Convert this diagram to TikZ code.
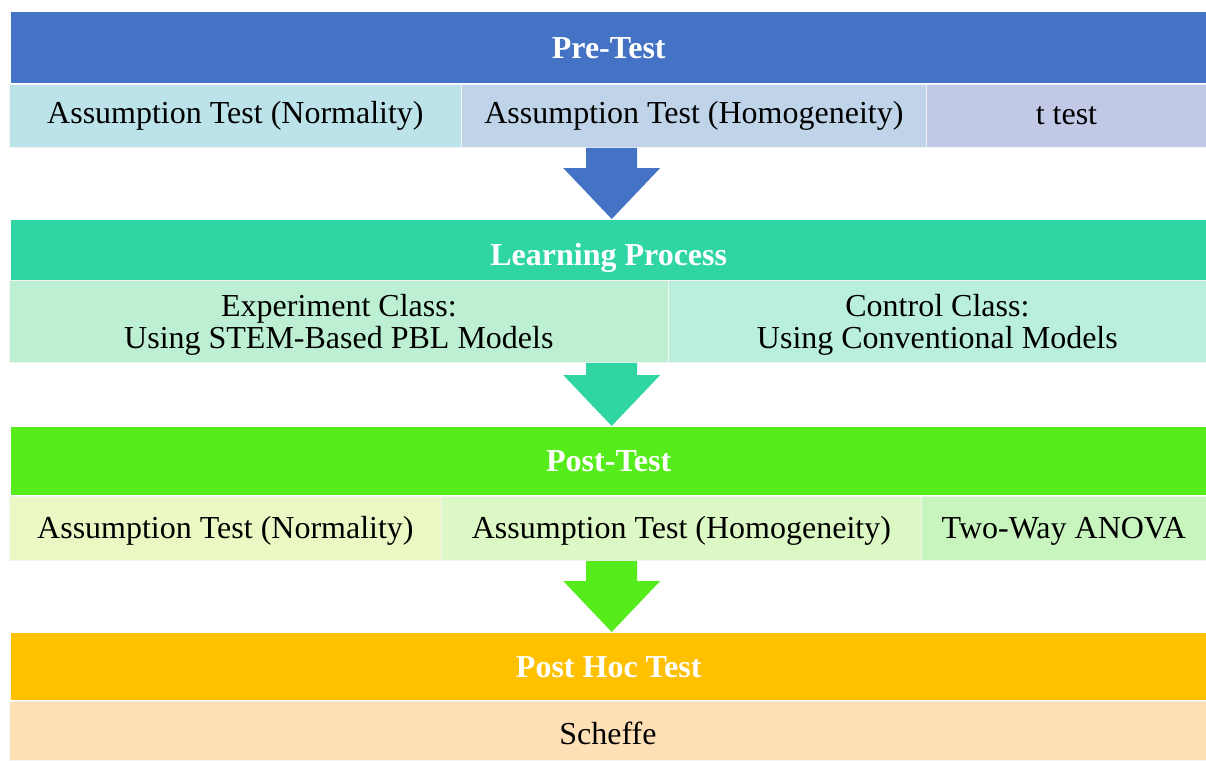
\documentclass[tikz,border=0pt]{standalone}
\usepackage{fontspec}
\setmainfont{Liberation Serif}
\definecolor{preblue}{HTML}{4472C4}
\definecolor{learngreen}{HTML}{2FD6A3}
\definecolor{postgreen}{HTML}{56EB1B}
\definecolor{hocorange}{HTML}{FFC000}
\definecolor{hoccell}{HTML}{FFE0B6}
\begin{document}
\begin{tikzpicture}[x=1pt,y=-1pt]
  \tikzset{
    head/.style={anchor=north west,inner sep=0pt,minimum width=1195pt,text=white,font=\fontsize{32}{33}\selectfont\bfseries},
    cell/.style={anchor=north west,inner sep=0pt,draw=white!70!gray!30,line width=0.8pt},
    celltext/.style={inner sep=0pt,align=center,font=\fontsize{32}{32}\selectfont}
  }
  \newcommand{\flowarrow}[3]{%
    \fill[#3] ([xshift=-22.5pt]#1) -- ([xshift=-22.5pt,yshift=52pt]#2) -- ([xshift=-45.5pt,yshift=52pt]#2)
      -- ([xshift=3pt,yshift=1pt]#2) -- ([xshift=51.5pt,yshift=52pt]#2) -- ([xshift=28.5pt,yshift=52pt]#2)
      -- ([xshift=28.5pt]#1) -- cycle;}
  \useasboundingbox (0,0) rectangle (1206,760);
  % Stage bars
  \node[head,fill=preblue,minimum height=71pt] (pre) at (11,12) {Pre-Test};
  \node[head,fill=learngreen,minimum height=60pt,text height=30pt,text depth=0pt] (learn) at (11,220) {Learning Process};
  \node[head,fill=postgreen,minimum height=68pt] (post) at (11,427) {Post-Test};
  \node[head,fill=hocorange,minimum height=67pt] (hoc) at (11,633) {Post Hoc Test};
  % Pre-test cells
  \foreach \x/\w/\c/\n/\t in {9/452/BDE3EA/preA/{Assumption Test (Normality)},
      461/465/BFD4E8/preB/{Assumption Test (Homogeneity)},
      926/280/C1C9E6/preC/{t test}}
    {\definecolor{cellfill}{HTML}{\c}
     \node[cell,fill=cellfill,minimum width=\w pt,minimum height=63pt] (\n) at (\x,84) {};
     \node[celltext] at (\n.center) {\t};}
  % Learning cells
  \foreach \x/\w/\c/\n/\t in {9/659/BDF0D2/learnA/{Experiment Class:\\Using STEM-Based PBL Models},
      668/538/B9EFDB/learnB/{Control Class:\\Using Conventional Models}}
    {\definecolor{cellfill}{HTML}{\c}
     \node[cell,fill=cellfill,minimum width=\w pt,minimum height=82pt] (\n) at (\x,280) {};
     \node[celltext] at ([yshift=-3.5pt]\n.center) {\t};}
  % Post-test cells
  \foreach \x/\w/\c/\n/\t in {9/432/ECF8C4/postA/{Assumption Test (Normality)},
      441/480/DCF8C4/postB/{Assumption Test (Homogeneity)},
      921/285/C8F5BE/postC/{Two-Way ANOVA}}
    {\definecolor{cellfill}{HTML}{\c}
     \node[cell,fill=cellfill,minimum width=\w pt,minimum height=64pt] (\n) at (\x,496) {};
     \node[celltext] at ([yshift=-2.5pt]\n.center) {\t};}
  % Post hoc cell
  \node[cell,fill=hoccell,minimum width=1197pt,minimum height=59pt] (hocA) at (9,701) {};
  \node[celltext] at ([yshift=-2pt]hocA.center) {Scheffe};
  % Arrows between stages
  \coordinate (preout) at (preB.south -| pre.south);
  \coordinate (learnout) at (learnA.south -| learn.south);
  \coordinate (postout) at (postB.south -| post.south);
  \flowarrow{preout}{learn.north}{preblue}
  \flowarrow{learnout}{post.north}{learngreen}
  \flowarrow{postout}{hoc.north}{postgreen}
\end{tikzpicture}
\end{document}
